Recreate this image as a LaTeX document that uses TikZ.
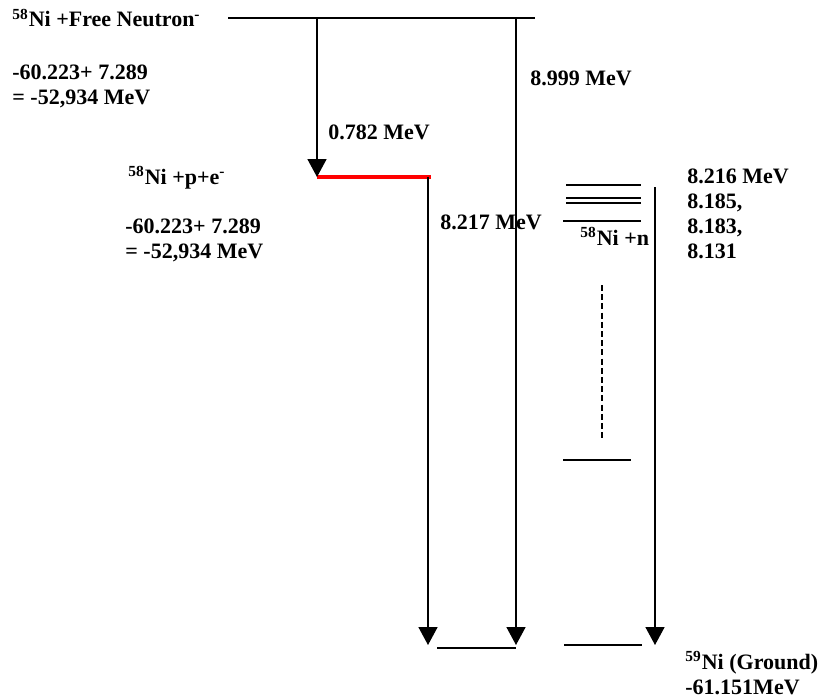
\documentclass[tikz,border=0pt]{standalone}
\usepackage{fontspec}
\setmainfont{Liberation Serif}
\usetikzlibrary{arrows.meta}
\newcommand{\iso}[1]{\textsuperscript{#1}}

\begin{document}
\begin{tikzpicture}[x=0.5pt, y=-0.5pt,
    font=\bfseries\fontsize{11}{12.5}\selectfont,
    level/.style={line width=0.8pt},
    decay/.style={line width=0.8pt, -{Triangle[length=9pt, width=9.5pt]}},
    lbl/.style={anchor=west, align=left, inner sep=0pt}]

  \useasboundingbox (0,0) rectangle (822,698);

  % Levels
  \coordinate (freeL) at (228,18);
  \coordinate (freeR) at (535,18);
  \coordinate (freeA) at (317,18);
  \coordinate (freeB) at (516,18);
  \coordinate (peL) at (317,177);
  \coordinate (peR) at (428,177);
  \coordinate (gndA) at (428,645);
  \coordinate (gndB) at (516,645);
  \coordinate (gndL) at (437,648);
  \coordinate (gndR) at (516,648);

  \draw[level] (freeL) -- (freeR);
  \draw[red, line width=2pt] (peL) -- ([xshift=1.5]peR);
  \draw[level] (gndL) -- (gndR);

  % Ni-58 + n levels
  \coordinate (nTop) at (655,187);
  \coordinate (nBot) at (655,645);
  \draw[level] (566,185) -- (641,185);
  \draw[level] (566,198) -- (641,198);
  \draw[level] (566,203) -- (641,203);
  \draw[level] (563,221) -- (641,221);
  \draw[line width=0.8pt, dash pattern=on 3pt off 1.6pt] (602,285) -- (602,438);
  \draw[level] (563,460) -- (631,460);
  \draw[level] (564,645) -- (642,645);

  % Labels
  \node[lbl] (free) at (12,18) {\iso{58}Ni +Free Neutron\iso{-}};
  \node[lbl] (freeE) at (12,86) {-60.223+ 7.289\\= -52,934 MeV};
  \node[lbl] (pe) at (128,178) {\iso{58}Ni +p+e\iso{-}};
  \node[lbl] (peE) at (125,240) {-60.223+ 7.289\\= -52,934 MeV};
  \node[lbl] (e1) at (328,132) {0.782 MeV};
  \node[lbl] (e2) at (530,78) {8.999 MeV};
  \node[lbl] (e3) at (440,222) {8.217 MeV};
  \node[lbl] (nn) at (580,236) {\iso{58}Ni +n};
  \node[lbl] (eList) at (687,214) {8.216 MeV\\8.185,\\8.183,\\8.131};
  \node[lbl] (gnd) at (685,673) {\iso{59}Ni (Ground)\\-61.151MeV};

  % Transitions
  \draw[decay] (freeA) -- (peL);
  \draw[decay] (peR) -- (gndA);
  \draw[decay] (freeB) -- (gndB);
  \draw[decay] (nTop) -- (nBot);

\end{tikzpicture}
\end{document}
